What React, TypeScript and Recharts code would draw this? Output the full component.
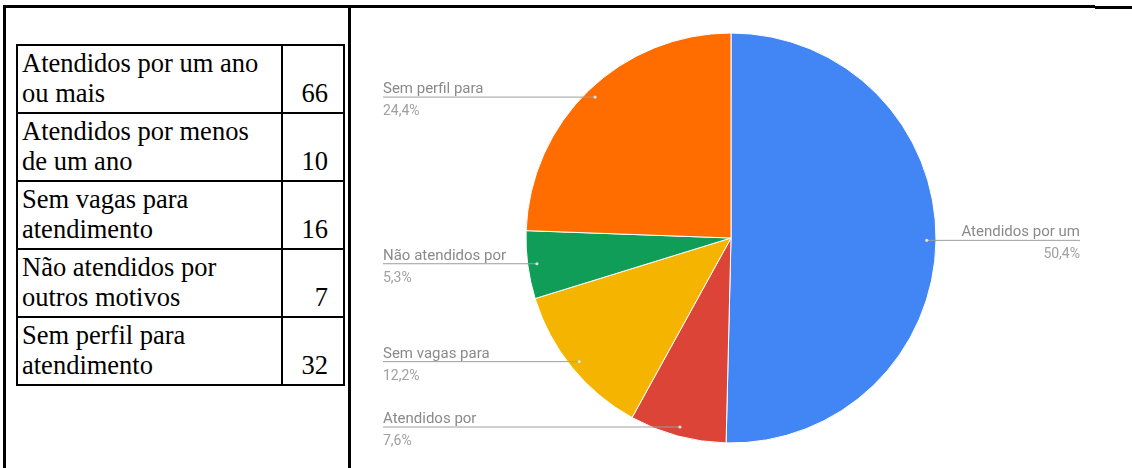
import React from "react";
import { PieChart, Pie, Cell } from "recharts";

// Categories (full names, as listed in the table) and their counts
const categories = [
  "Atendidos por um ano ou mais",
  "Atendidos por menos de um ano",
  "Sem vagas para atendimento",
  "Não atendidos por outros motivos",
  "Sem perfil para atendimento",
];
const counts = [66, 10, 16, 7, 32];

// Truncated slice captions shown next to the pie
const sliceLabels = [
  "Atendidos por um",
  "Atendidos por",
  "Sem vagas para",
  "Não atendidos por",
  "Sem perfil para",
];

const colors = ["#4285F4", "#DB4437", "#F4B400", "#0F9D58", "#FF6D00"];

const total = counts.reduce((a, b) => a + b, 0);
const pieData = categories.map((name, i) => ({
  name,
  value: counts[i],
  short: sliceLabels[i],
}));

const RAD = Math.PI / 180;
const CHART_W = 780;
const CHART_H = 468;
const LEFT_TEXT_X = 33;
const RIGHT_TEXT_X = 730;

const fmtPct = (v: number) => ((v / total) * 100).toFixed(1).replace(".", ",") + "%";

const renderLabel = (props: any) => {
  const { cx, cy, midAngle, outerRadius, index, value } = props;
  const r = outerRadius * 0.955;
  const dx = cx + r * Math.cos(-midAngle * RAD);
  const dy = cy + r * Math.sin(-midAngle * RAD);
  const right = dx > cx;
  const tx = right ? RIGHT_TEXT_X : LEFT_TEXT_X;
  const anchor = right ? "end" : "start";
  return (
    <g key={`lbl-${index}`}>
      <line x1={dx} y1={dy} x2={tx} y2={dy} stroke="#9e9e9e" strokeWidth={1} />
      <circle cx={dx} cy={dy} r={1.6} fill="#e0e0e0" />
      <text
        x={tx}
        y={dy - 4}
        textAnchor={anchor}
        fill="#8a8a8a"
        fontFamily="Roboto, sans-serif"
        fontSize={15}
      >
        {pieData[index].short}
      </text>
      <text
        x={tx}
        y={dy + 18}
        textAnchor={anchor}
        fill="#a0a0a0"
        fontFamily="Roboto, sans-serif"
        fontSize={14}
      >
        {fmtPct(value)}
      </text>
    </g>
  );
};

const serif = "\"Liberation Serif\", Tinos, \"Times New Roman\", \"DejaVu Serif\", serif";

const cellBorder = "2px solid #000";

const cellText: React.CSSProperties = {
  fontFamily: serif,
  fontSize: 26.5,
  lineHeight: "30px",
  verticalAlign: "bottom",
  border: cellBorder,
  color: "#000",
};

export default function App() {
  return (
    <div
      style={{
        position: "absolute",
        left: 0,
        top: 0,
        width: 1132,
        height: 468,
        background: "#fff",
        overflow: "hidden",
        fontFamily: serif,
      }}
    >
      {/* outer frame */}
      <div style={{ position: "absolute", left: 3, top: 5, width: 1092, height: 3, background: "#000" }} />
      <div style={{ position: "absolute", left: 1095, top: 6, width: 37, height: 3, background: "#000" }} />
      <div style={{ position: "absolute", left: 3, top: 5, width: 3, height: 463, background: "#000" }} />
      <div style={{ position: "absolute", left: 348, top: 5, width: 3, height: 463, background: "#000" }} />

      {/* data table */}
      <table
        style={{
          position: "absolute",
          left: 16,
          top: 44,
          width: 327,
          borderCollapse: "collapse",
          tableLayout: "fixed",
          fontFamily: serif,
          fontSize: 26.5,
        }}
      >
        <colgroup>
          <col style={{ width: 265 }} />
          <col style={{ width: 62 }} />
        </colgroup>
        <tbody>
          {categories.map((c, i) => (
            <tr key={c} style={{ height: 68 }}>
              <td style={{ ...cellText, padding: "0 0 4px 4px" }}>
                <div style={{ width: 248, fontFamily: serif }}>{c}</div>
              </td>
              <td style={{ ...cellText, padding: "0 15px 4px 0", textAlign: "right" }}>
                {counts[i]}
              </td>
            </tr>
          ))}
        </tbody>
      </table>

      {/* pie chart */}
      <div style={{ position: "absolute", left: 350, top: 0, filter: "blur(0.5px)" }}>
        <PieChart
          width={CHART_W}
          height={CHART_H}
          margin={{ top: 0, right: 0, bottom: 0, left: 0 }}
        >
          <Pie
            data={pieData}
            dataKey="value"
            nameKey="name"
            cx={381}
            cy={238}
            outerRadius={205}
            startAngle={90}
            endAngle={-270}
            stroke="#ffffff"
            strokeWidth={1}
            label={renderLabel}
            labelLine={false}
            isAnimationActive={false}
          >
            {pieData.map((d, i) => (
              <Cell key={d.name} fill={colors[i]} />
            ))}
          </Pie>
        </PieChart>
      </div>
    </div>
  );
}
